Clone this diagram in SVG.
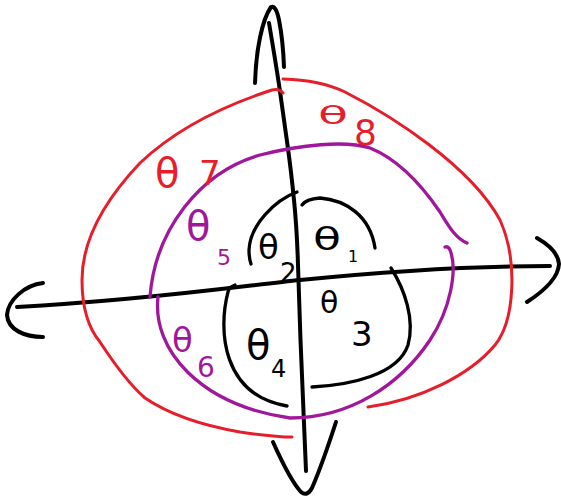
<svg xmlns="http://www.w3.org/2000/svg" width="561" height="502" viewBox="0 0 561 502">
<style>
.s{fill:none;stroke-linecap:round;stroke-linejoin:round}
.k{stroke:#000;stroke-width:4}
.ka{stroke:#000;stroke-width:3.3}
.p{stroke:#a0179c;stroke-width:3.3}
.r{stroke:#e61e2a;stroke-width:3}
.t{font-family:"DejaVu Sans","Liberation Sans",sans-serif}
.tk{fill:#000}
.tp{fill:#a0179c}
.tr{fill:#e61e2a}
</style>
<rect width="561" height="502" fill="#fff"/>
<g id="axes">
<path class="s k" d="M269,23 Q277,70 280.5,95 Q284,120 287.5,145 Q291,170 294,200 Q297,230 298,265 Q299,300 300.5,340 Q302,380 306,471"/>
<path class="s k" d="M255,83 C256,50 262,20 271,7 Q276,5 279,20 Q283,40 284,67"/>
<path class="s k" d="M273,442 Q290,480 301,492 Q307,497 312,488 Q322,465 336,422"/>
<path class="s k" d="M17,307 C150,300 250,285 300,280 C400,270 480,266 550,266"/>
<path class="s k" d="M43,283 C25,285 8,300 7,315 C8,330 25,337 43,337"/>
<path class="s k" d="M537,238 Q558,250 559,264 Q558,282 527,302"/>
</g>
<g id="inner">
<path class="s ka" d="M297,192 C275,200 250,225 249,250 Q249,258 251,264"/>
<path class="s ka" d="M302,205 Q306,199 320,198 C345,200 370,215 375,248"/>
<path class="s ka" d="M391,268 C405,290 415,320 408,345 C398,375 350,385 312,387"/>
<path class="s ka" d="M235,285 Q229,287 228,292 C218,330 222,395 287,406"/>
</g>
<g id="middle">
<path class="s p" d="M467,243 C455,238 448,225 440,212 C425,190 400,160 370,148 C345,140 300,145 260,155 C200,172 155,230 150,297"/>
<path class="s p" d="M158,297 C152,350 200,405 290,418 C350,418 400,385 430,340 C450,310 458,270 450,250 Q448,246 445,247"/>
</g>
<g id="outer">
<path class="s r" d="M283,79 Q320,80 345,92 C390,115 470,165 500,220 C518,260 515,320 495,345 C470,375 420,400 368,407"/>
<path class="s r" d="M283,93 Q279,88 272,90 C235,102 180,125 140,163 C105,200 82,240 82,280 C82,310 90,330 100,342 C115,365 130,385 145,398 C170,415 200,425 240,432 Q275,437 292,437"/>
</g>
<g id="theta1" class="t tk"><text x="313" y="250" font-size="32" textLength="28" lengthAdjust="spacingAndGlyphs">θ</text><text x="348" y="262" font-size="16">1</text></g>
<g id="theta2" class="t tk"><text x="258" y="259" font-size="34">θ</text><text x="280" y="282" font-size="26">2</text></g>
<g id="theta3" class="t tk"><text x="320" y="313" font-size="30">θ</text><text x="351" y="346" font-size="34">3</text></g>
<g id="theta4" class="t tk"><text x="246" y="359" font-size="40">θ</text><text x="271" y="377" font-size="24">4</text></g>
<g id="theta5" class="t tp"><text x="186" y="240" font-size="40">θ</text><text x="217" y="265" font-size="22">5</text></g>
<g id="theta6" class="t tp"><text x="172" y="352" font-size="34">θ</text><text x="197" y="377" font-size="28">6</text></g>
<g id="theta7" class="t tr"><text x="155" y="187" font-size="40">θ</text><text x="199" y="185" font-size="34">7</text></g>
<g id="theta8" class="t tr"><text x="318" y="124" font-size="24" textLength="30" lengthAdjust="spacingAndGlyphs">θ</text><text x="354" y="145" font-size="36">8</text></g>
</svg>
